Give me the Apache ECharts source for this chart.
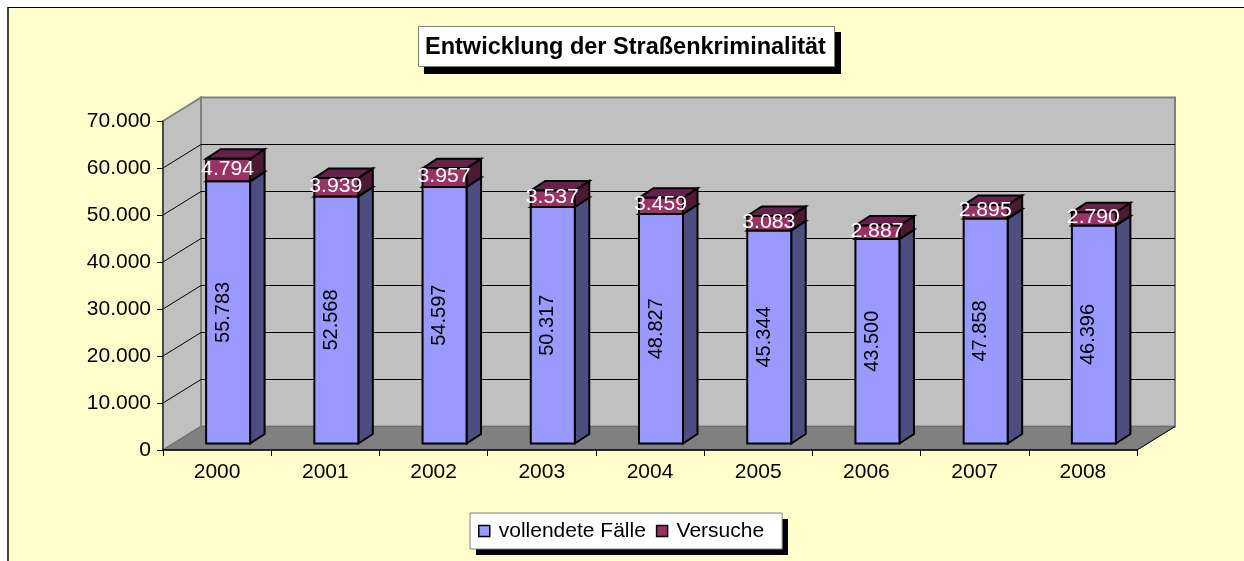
<!DOCTYPE html>
<html><head><meta charset="utf-8">
<style>
html,body{margin:0;padding:0;background:#fff;overflow:hidden}
#frame{position:absolute;left:7px;top:7px;width:1237px;height:554px;background:#ffffcc;border-left:2px solid #444;border-top:1.5px solid #000;box-sizing:border-box}
#chart{position:absolute;left:0;top:0;width:1244px;height:561px}
</style>
<script src="https://cdn.jsdelivr.net/npm/echarts@6/dist/echarts.min.js"></script>
</head><body><div id="frame"></div><div id="chart"></div>
<script>
const categories = ['2000','2001','2002','2003','2004','2005','2006','2007','2008'];
const vollendeteFaelle = [55783,52568,54597,50317,48827,45344,43500,47858,46396];
const versuche = [4794,3939,3957,3537,3459,3083,2887,2895,2790];
const gridValues = [0,10000,20000,30000,40000,50000,60000,70000];
const seriesNames = ['vollendete Fälle','Versuche'];

const fmt = v => String(v).replace(/\B(?=(\d{3})+$)/g,'.');
const WALL = {dx:38, dy:-23.5};
const NEAR = {dx:11, dy:-6.5};
const FAR = {dx:25.5, dy:-16};
const BAR_W = 44;
const FAMILY = '"Liberation Sans", Arial, sans-serif';
const FONT = '20px '+FAMILY;

function wallItem(params, api){
  const i = params.dataIndex, val = api.value(1);
  const band = api.size([1,0])[0];
  const left = api.coord([0,0])[0]-band/2, right = api.coord([categories.length-1,0])[0]+band/2;
  const y0 = api.coord([0,0])[1], y = api.coord([0,val])[1];
  const top = api.coord([0,70000])[1];
  const children = [];
  if(i===0){
    children.push({type:'polygon',shape:{points:[[left+WALL.dx,top+WALL.dy],[right+WALL.dx,top+WALL.dy],[right+WALL.dx,y0+WALL.dy],[left+WALL.dx,y0+WALL.dy]]},style:{fill:'#c0c0c0',stroke:'#808080',lineWidth:2}});
    children.push({type:'polygon',shape:{points:[[left,top],[left+WALL.dx,top+WALL.dy],[left+WALL.dx,y0+WALL.dy],[left,y0]]},style:{fill:'#c0c0c0',stroke:'#808080',lineWidth:2}});
    children.push({type:'polygon',shape:{points:[[left,y0],[right,y0],[right+WALL.dx,y0+WALL.dy],[left+WALL.dx,y0+WALL.dy]]},style:{fill:'#808080',stroke:'#6e6e6e',lineWidth:1}});
    children.push({type:'line',shape:{x1:right,y1:y0,x2:right+WALL.dx,y2:y0+WALL.dy},style:{stroke:'#000',lineWidth:1}});
  } else if(val<70000){
    children.push({type:'line',shape:{x1:left,y1:y,x2:left+WALL.dx,y2:y+WALL.dy},style:{stroke:'#000',lineWidth:1}});
    children.push({type:'line',shape:{x1:left+WALL.dx,y1:y+WALL.dy,x2:right+WALL.dx,y2:y+WALL.dy},style:{stroke:'#000',lineWidth:1}});
  }
  return {type:'group',children};
}

function barItem(cfg){
  return function(params, api){
    const i = api.value(0), base = api.value(1), top = api.value(2);
    const cx = api.coord([i,0])[0];
    const yb = api.coord([i,base])[1], yt = api.coord([i,top])[1];
    const x1 = cx-BAR_W/2+NEAR.dx, x2 = x1+BAR_W;
    const b = yb+NEAR.dy, t = yt+NEAR.dy;
    const d = {x:FAR.dx-NEAR.dx, y:FAR.dy-NEAR.dy};
    const line = {stroke:'#000',lineWidth:2,lineJoin:'miter'};
    const children = [
      {type:'polygon',shape:{points:[[x2,b],[x2+d.x,b+d.y],[x2+d.x,t+d.y],[x2,t]]},style:{fill:cfg.side,...line}},
      {type:'polygon',shape:{points:[[x1,t],[x2,t],[x2+d.x,t+d.y],[x1+d.x,t+d.y]]},style:{fill:cfg.top,...line}},
      {type:'rect',shape:{x:x1,y:t,width:BAR_W,height:b-t},style:{fill:cfg.front,...line}}
    ];
    const lx = x1+cfg.lx, ly = (b+t)/2+cfg.ly;
    children.push({type:'text',x:lx,y:ly,rotation:cfg.rot,scaleX:cfg.sx,
      style:{text:fmt(top-base),x:0,y:0,align:'center',verticalAlign:'middle',textAlign:'center',textVerticalAlign:'middle',fill:cfg.color,font:FONT}});
    return {type:'group',children};
  };
}

const stackLower = vollendeteFaelle.map((v,i)=>[i,0,v]);
const stackUpper = versuche.map((v,i)=>[i,vollendeteFaelle[i],vollendeteFaelle[i]+v]);

const chart = echarts.init(document.getElementById('chart'),null,{renderer:'canvas'});
chart.setOption({
  animation:false,
  backgroundColor:'transparent',
  graphic:[
    {type:'rect',z:3,silent:true,shape:{x:424,y:32,width:417,height:42},style:{fill:'#000'}},
    {type:'rect',z:3,silent:true,shape:{x:476,y:519,width:312,height:36},style:{fill:'#000'}}
  ],
  title:{text:'Entwicklung der Straßenkriminalität',left:418,top:26,padding:[9,9,7,7],
    backgroundColor:'#fff',borderColor:'#808080',borderWidth:1,
    textStyle:{fontFamily:FAMILY,fontWeight:'bold',fontSize:23.5,color:'#000',lineHeight:25}},
  legend:{data:seriesNames,left:470,top:513,orient:'horizontal',padding:[7,18,7,8],itemGap:10,itemWidth:11,itemHeight:11,
    backgroundColor:'#fff',borderColor:'#808080',borderWidth:1,
    icon:'rect',itemStyle:{borderColor:'#000',borderWidth:1.5},
    textStyle:{fontFamily:FAMILY,fontSize:21,color:'#000',padding:[0,0,0,4],lineHeight:22}},
  grid:{left:163,right:107,top:121,bottom:111,containLabel:false},
  xAxis:{type:'category',data:categories,z:5,
    axisLine:{lineStyle:{color:'#000',width:1.5}},
    axisTick:{show:true,alignWithLabel:false,length:6,lineStyle:{color:'#000',width:1}},
    axisLabel:{color:'#000',fontFamily:FAMILY,fontSize:21,margin:12},
    splitLine:{show:false}},
  yAxis:{type:'value',min:0,max:70000,interval:10000,z:5,
    axisLine:{show:true,lineStyle:{color:'#333',width:1.5}},
    axisTick:{show:true,length:6,lineStyle:{color:'#000',width:1}},
    axisLabel:{color:'#000',fontFamily:FAMILY,fontSize:21,margin:12,formatter:v=>fmt(v)},
    splitLine:{show:false}},
  series:[
    {type:'custom',name:'walls',z:1,silent:true,coordinateSystem:'cartesian2d',renderItem:wallItem,
     data:gridValues.map(v=>[0,v]),encode:{x:0,y:1},clip:false},
    {type:'custom',name:seriesNames[0],z:2,coordinateSystem:'cartesian2d',itemStyle:{color:'#9999ff'},
     renderItem:barItem({front:'#9999ff',side:'#4d4d80',top:'#4d4d80',color:'#000',lx:17,ly:0,rot:Math.PI/2,sx:1}),
     data:stackLower,encode:{x:0,y:[1,2]},clip:false},
    {type:'custom',name:seriesNames[1],z:3,coordinateSystem:'cartesian2d',itemStyle:{color:'#993366'},
     renderItem:barItem({front:'#993366',side:'#4d1a33',top:'#66224a',color:'#fff',lx:21.5,ly:-1,rot:0,sx:1.06}),
     data:stackUpper,encode:{x:0,y:[1,2]},clip:false}
  ]
});
</script></body></html>
